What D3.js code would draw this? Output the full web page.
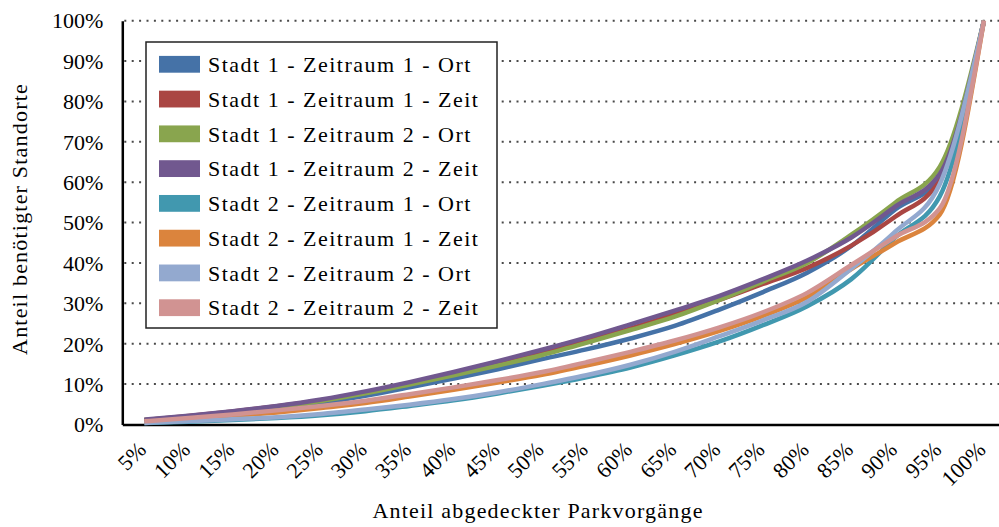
<!DOCTYPE html>
<html>
<head>
<meta charset="utf-8">
<script src="https://cdn.jsdelivr.net/npm/d3@7"></script>
<style>
  body { margin: 0; background: #fff; }
  svg { display: block; font-family: "Liberation Serif", "DejaVu Serif", serif; }
</style>
</head>
<body>
<svg id="chart" width="999" height="527"></svg>
<script>
// Share of covered parking events (x) vs. share of required locations (y)
const categories = ["5%", "10%", "15%", "20%", "25%", "30%", "35%", "40%", "45%", "50%",
                    "55%", "60%", "65%", "70%", "75%", "80%", "85%", "90%", "95%", "100%"];
const yTickValues = [0, 10, 20, 30, 40, 50, 60, 70, 80, 90, 100];

const seriesNames = [
  "Stadt 1 - Zeitraum 1 - Ort",
  "Stadt 1 - Zeitraum 1 - Zeit",
  "Stadt 1 - Zeitraum 2 - Ort",
  "Stadt 1 - Zeitraum 2 - Zeit",
  "Stadt 2 - Zeitraum 1 - Ort",
  "Stadt 2 - Zeitraum 1 - Zeit",
  "Stadt 2 - Zeitraum 2 - Ort",
  "Stadt 2 - Zeitraum 2 - Zeit"
];

// values in percent, one per category
const stadt1Zeitraum1Ort  = [1.0, 1.9, 2.8, 3.8, 5.3, 7.1, 9.2, 11.4, 13.7, 16.2, 18.6, 21.3, 24.4, 28.4, 32.8, 37.6, 44.2, 53.3, 61.0, 100];
const stadt1Zeitraum1Zeit = [1.1, 2.1, 3.2, 4.5, 6.0, 7.9, 10.2, 12.6, 15.1, 17.8, 20.7, 23.8, 27.3, 30.8, 34.8, 38.8, 44.3, 51.5, 60.5, 100];
const stadt1Zeitraum2Ort  = [1.1, 2.0, 3.0, 4.3, 5.8, 7.7, 9.9, 12.2, 14.6, 17.2, 20.2, 23.4, 26.7, 30.8, 35.4, 40.0, 47.0, 55.0, 63.8, 100];
const stadt1Zeitraum2Zeit = [1.2, 2.2, 3.3, 4.6, 6.2, 8.2, 10.5, 13.0, 15.7, 18.5, 21.5, 24.8, 28.2, 31.8, 36.0, 40.6, 46.3, 54.0, 62.0, 100];
const stadt2Zeitraum1Ort  = [0.4, 0.7, 1.1, 1.6, 2.3, 3.3, 4.6, 6.0, 7.7, 9.6, 11.7, 14.1, 17.1, 20.5, 24.6, 29.3, 36.0, 46.4, 56.5, 100];
const stadt2Zeitraum1Zeit = [0.6, 1.3, 2.1, 3.0, 4.1, 5.3, 6.9, 8.6, 10.4, 12.3, 14.6, 17.1, 19.9, 23.1, 26.9, 31.5, 38.5, 45.0, 52.0, 100];
const stadt2Zeitraum2Ort  = [0.4, 0.8, 1.3, 1.8, 2.6, 3.7, 4.9, 6.3, 8.0, 10.0, 12.2, 14.8, 18.0, 21.8, 25.8, 30.4, 38.6, 47.8, 59.5, 100];
const stadt2Zeitraum2Zeit = [0.8, 1.6, 2.5, 3.5, 4.6, 5.9, 7.5, 9.2, 11.0, 13.0, 15.4, 18.0, 20.8, 24.0, 27.8, 32.6, 39.5, 46.5, 53.5, 100];

const seriesValues = [
  stadt1Zeitraum1Ort, stadt1Zeitraum1Zeit, stadt1Zeitraum2Ort, stadt1Zeitraum2Zeit,
  stadt2Zeitraum1Ort, stadt2Zeitraum1Zeit, stadt2Zeitraum2Ort, stadt2Zeitraum2Zeit
];

const seriesColors = ["#4572A7", "#AA4643", "#89A54E", "#71588F", "#4198AF", "#DB843D", "#93A9CF", "#D19392"];

const svg = d3.select("#chart");
const FONT = 22;

const plotLeft = 122.3, plotRight = 1006, plotTop = 20.7, plotBottom = 424.5;

const x = d3.scaleBand().domain(categories).range([plotLeft, plotRight]);
const xc = c => x(c) + x.bandwidth() / 2;
const y = d3.scaleLinear().domain([0, 100]).range([plotBottom, plotTop]);

// dotted horizontal grid
svg.append("g")
  .selectAll("line")
  .data(yTickValues.filter(v => v > 0))
  .join("line")
  .attr("x1", plotLeft + 2)
  .attr("x2", 999)
  .attr("y1", d => y(d))
  .attr("y2", d => y(d))
  .attr("stroke", "#4a4a4a")
  .attr("stroke-width", 2)
  .attr("stroke-dasharray", "2,5.4");

// y axis
const gy = svg.append("g")
  .attr("transform", `translate(${plotLeft},0)`)
  .call(d3.axisLeft(y).tickValues(yTickValues).tickFormat(d => d + "%")
    .tickSize(0).tickSizeOuter(0).tickPadding(19));
gy.select(".domain").attr("stroke", "#000").attr("stroke-width", 2.5);
gy.selectAll("text")
  .attr("font-size", FONT)
  .attr("font-family", "Liberation Serif")
  .attr("fill", "#000")
  .attr("dy", "0.33em");

// x axis
const gx = svg.append("g")
  .attr("transform", `translate(0,${plotBottom})`)
  .call(d3.axisBottom(x).tickSize(0).tickSizeOuter(0));
gx.select(".domain").attr("stroke", "#000").attr("stroke-width", 2.5);
gx.selectAll("text")
  .attr("font-size", FONT)
  .attr("font-family", "Liberation Serif")
  .attr("fill", "#000")
  .attr("x", 0)
  .attr("y", 0)
  .attr("dy", 0)
  .attr("text-anchor", "end")
  .attr("transform", "translate(3,26.5) rotate(-45)");

// series lines
const line = d3.line()
  .x((d, i) => xc(categories[i]))
  .y(d => y(d))
  .curve(d3.curveMonotoneX);

svg.append("g")
  .selectAll("path")
  .data(seriesValues)
  .join("path")
  .attr("d", d => line(d))
  .attr("fill", "none")
  .attr("stroke", (d, i) => seriesColors[i])
  .attr("stroke-width", 4.5)
  .attr("stroke-linejoin", "round");

// legend
const legend = svg.append("g");
legend.append("rect")
  .attr("x", 146).attr("y", 42)
  .attr("width", 351).attr("height", 286)
  .attr("fill", "#fff")
  .attr("stroke", "#222")
  .attr("stroke-width", 1.5);

const rowY = i => 64.3 + i * 34.77;
const rows = legend.selectAll("g.row")
  .data(seriesNames)
  .join("g")
  .attr("class", "row");
rows.append("rect")
  .attr("x", 159).attr("y", (d, i) => rowY(i) - 8.4)
  .attr("width", 41).attr("height", 16.8)
  .attr("fill", (d, i) => seriesColors[i]);
rows.append("text")
  .attr("x", 208).attr("y", (d, i) => rowY(i) + 7.8)
  .attr("font-size", FONT)
  .attr("letter-spacing", 1.5)
  .attr("fill", "#000")
  .text(d => d);

// axis titles
svg.append("text")
  .attr("x", 538).attr("y", 518)
  .attr("text-anchor", "middle")
  .attr("font-size", FONT)
  .attr("letter-spacing", 1.2)
  .attr("fill", "#000")
  .text("Anteil abgedeckter Parkvorgänge");

svg.append("text")
  .attr("transform", "translate(27,219) rotate(-90)")
  .attr("text-anchor", "middle")
  .attr("font-size", FONT)
  .attr("letter-spacing", 1.2)
  .attr("fill", "#000")
  .text("Anteil benötigter Standorte");
</script>
</body>
</html>
